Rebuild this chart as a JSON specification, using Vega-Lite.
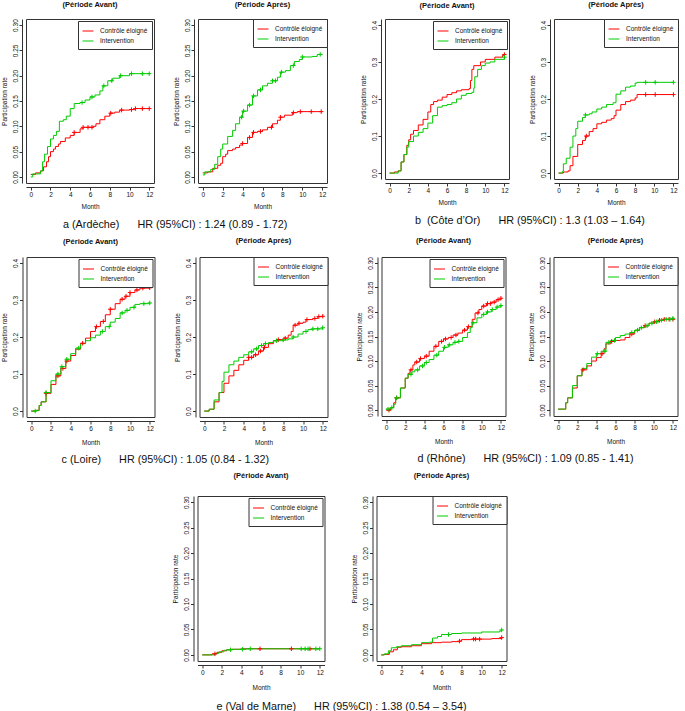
{
"$schema": "https://vega.github.io/schema/vega-lite/v6.json",
"background": "white",
"padding": {"left": 0, "top": 0, "right": 0, "bottom": 0},
"config": {
  "font": "Liberation Sans",
  "view": {"stroke": "#333", "strokeWidth": 1},
  "axis": {"grid": false, "domainColor": "#333", "tickColor": "#333", "labelColor": "#111", "titleColor": "#111", "labelFont": "Liberation Sans", "titleFont": "Liberation Sans", "labelFontSize": 6.5, "titleFontSize": 6.5, "titleFontWeight": "normal", "tickSize": 3, "offset": 4, "labelPadding": 1, "titlePadding": 7, "labelFlush": false, "labelOverlap": false, "domainWidth": 1, "tickWidth": 1},
  "axisY": {"labelAngle": 270, "titlePadding": 5},
  "legend": {"orient": "top-right", "offset": 2, "padding": 4, "strokeColor": "#333", "fillColor": "white", "labelFont": "Liberation Sans", "labelFontSize": 6.5, "labelColor": "#111", "symbolType": "stroke", "symbolSize": 120, "symbolStrokeWidth": 1, "rowPadding": -2, "labelOffset": 6},
  "title": {"font": "Liberation Sans", "fontSize": 7.5, "fontWeight": "bold", "color": "#111", "offset": 10, "anchor": "middle", "frame": "group"},
  "line": {"strokeWidth": 1}
},
"datasets": {
"km": [
{"p":"a1","g":"C","t":0,"y":0.005},{"p":"a1","g":"C","t":0.5,"y":0.008},{"p":"a1","g":"C","t":1,"y":0.012},{"p":"a1","g":"C","t":1.3,"y":0.02},{"p":"a1","g":"C","t":1.6,"y":0.03},{"p":"a1","g":"C","t":1.8,"y":0.04},{"p":"a1","g":"C","t":2,"y":0.05},{"p":"a1","g":"C","t":2.3,"y":0.055},{"p":"a1","g":"C","t":2.5,"y":0.06},{"p":"a1","g":"C","t":2.8,"y":0.065},{"p":"a1","g":"C","t":3,"y":0.07},{"p":"a1","g":"C","t":3.5,"y":0.077},{"p":"a1","g":"C","t":4,"y":0.082},{"p":"a1","g":"C","t":4.4,"y":0.088},{"p":"a1","g":"C","t":5,"y":0.095},{"p":"a1","g":"C","t":5.3,"y":0.098},{"p":"a1","g":"C","t":6.3,"y":0.1},{"p":"a1","g":"C","t":6.6,"y":0.105},{"p":"a1","g":"C","t":7,"y":0.113},{"p":"a1","g":"C","t":7.5,"y":0.12},{"p":"a1","g":"C","t":8,"y":0.126},{"p":"a1","g":"C","t":8.5,"y":0.128},{"p":"a1","g":"C","t":9,"y":0.132},{"p":"a1","g":"C","t":10,"y":0.133},{"p":"a1","g":"C","t":10.5,"y":0.135},{"p":"a1","g":"C","t":12,"y":0.135},
{"p":"a1","g":"I","t":0,"y":0},{"p":"a1","g":"I","t":0.2,"y":0.006},{"p":"a1","g":"I","t":1,"y":0.012},{"p":"a1","g":"I","t":1.2,"y":0.03},{"p":"a1","g":"I","t":1.4,"y":0.045},{"p":"a1","g":"I","t":1.7,"y":0.06},{"p":"a1","g":"I","t":2,"y":0.075},{"p":"a1","g":"I","t":2.3,"y":0.082},{"p":"a1","g":"I","t":2.6,"y":0.09},{"p":"a1","g":"I","t":2.9,"y":0.11},{"p":"a1","g":"I","t":3.3,"y":0.113},{"p":"a1","g":"I","t":3.6,"y":0.12},{"p":"a1","g":"I","t":4,"y":0.135},{"p":"a1","g":"I","t":4.4,"y":0.145},{"p":"a1","g":"I","t":5,"y":0.147},{"p":"a1","g":"I","t":5.5,"y":0.152},{"p":"a1","g":"I","t":6,"y":0.158},{"p":"a1","g":"I","t":6.5,"y":0.162},{"p":"a1","g":"I","t":7,"y":0.17},{"p":"a1","g":"I","t":7.3,"y":0.18},{"p":"a1","g":"I","t":7.8,"y":0.19},{"p":"a1","g":"I","t":8.3,"y":0.195},{"p":"a1","g":"I","t":9,"y":0.2},{"p":"a1","g":"I","t":10,"y":0.204},{"p":"a1","g":"I","t":12,"y":0.204},
{"p":"a2","g":"C","t":0,"y":0.008},{"p":"a2","g":"C","t":0.5,"y":0.01},{"p":"a2","g":"C","t":1,"y":0.017},{"p":"a2","g":"C","t":1.5,"y":0.023},{"p":"a2","g":"C","t":1.8,"y":0.027},{"p":"a2","g":"C","t":2,"y":0.04},{"p":"a2","g":"C","t":2.3,"y":0.045},{"p":"a2","g":"C","t":2.5,"y":0.052},{"p":"a2","g":"C","t":3,"y":0.055},{"p":"a2","g":"C","t":3.3,"y":0.058},{"p":"a2","g":"C","t":3.7,"y":0.063},{"p":"a2","g":"C","t":4,"y":0.066},{"p":"a2","g":"C","t":4.5,"y":0.078},{"p":"a2","g":"C","t":5,"y":0.088},{"p":"a2","g":"C","t":5.5,"y":0.09},{"p":"a2","g":"C","t":6,"y":0.093},{"p":"a2","g":"C","t":6.5,"y":0.098},{"p":"a2","g":"C","t":7,"y":0.105},{"p":"a2","g":"C","t":7.5,"y":0.112},{"p":"a2","g":"C","t":7.8,"y":0.118},{"p":"a2","g":"C","t":8.2,"y":0.122},{"p":"a2","g":"C","t":9,"y":0.127},{"p":"a2","g":"C","t":9.5,"y":0.129},{"p":"a2","g":"C","t":12,"y":0.129},
{"p":"a2","g":"I","t":0,"y":0.004},{"p":"a2","g":"I","t":0.2,"y":0.01},{"p":"a2","g":"I","t":0.8,"y":0.015},{"p":"a2","g":"I","t":1.2,"y":0.025},{"p":"a2","g":"I","t":1.5,"y":0.04},{"p":"a2","g":"I","t":1.8,"y":0.055},{"p":"a2","g":"I","t":2,"y":0.065},{"p":"a2","g":"I","t":2.5,"y":0.08},{"p":"a2","g":"I","t":3,"y":0.092},{"p":"a2","g":"I","t":3.3,"y":0.105},{"p":"a2","g":"I","t":3.7,"y":0.118},{"p":"a2","g":"I","t":4,"y":0.13},{"p":"a2","g":"I","t":4.5,"y":0.142},{"p":"a2","g":"I","t":5,"y":0.16},{"p":"a2","g":"I","t":5.5,"y":0.172},{"p":"a2","g":"I","t":6,"y":0.18},{"p":"a2","g":"I","t":6.5,"y":0.185},{"p":"a2","g":"I","t":7,"y":0.19},{"p":"a2","g":"I","t":7.5,"y":0.197},{"p":"a2","g":"I","t":7.8,"y":0.207},{"p":"a2","g":"I","t":8.3,"y":0.21},{"p":"a2","g":"I","t":8.8,"y":0.22},{"p":"a2","g":"I","t":9.2,"y":0.228},{"p":"a2","g":"I","t":9.7,"y":0.232},{"p":"a2","g":"I","t":10,"y":0.237},{"p":"a2","g":"I","t":11,"y":0.238},{"p":"a2","g":"I","t":11.5,"y":0.242},{"p":"a2","g":"I","t":12,"y":0.242},
{"p":"b1","g":"C","t":0,"y":0},{"p":"b1","g":"C","t":0.5,"y":0.003},{"p":"b1","g":"C","t":0.9,"y":0.006},{"p":"b1","g":"C","t":1.2,"y":0.03},{"p":"b1","g":"C","t":1.5,"y":0.05},{"p":"b1","g":"C","t":1.8,"y":0.075},{"p":"b1","g":"C","t":2,"y":0.09},{"p":"b1","g":"C","t":2.2,"y":0.105},{"p":"b1","g":"C","t":2.5,"y":0.115},{"p":"b1","g":"C","t":3,"y":0.13},{"p":"b1","g":"C","t":3.5,"y":0.145},{"p":"b1","g":"C","t":4,"y":0.165},{"p":"b1","g":"C","t":4.3,"y":0.185},{"p":"b1","g":"C","t":4.6,"y":0.193},{"p":"b1","g":"C","t":5,"y":0.197},{"p":"b1","g":"C","t":5.5,"y":0.205},{"p":"b1","g":"C","t":6,"y":0.212},{"p":"b1","g":"C","t":6.5,"y":0.217},{"p":"b1","g":"C","t":7,"y":0.222},{"p":"b1","g":"C","t":7.5,"y":0.225},{"p":"b1","g":"C","t":8.3,"y":0.228},{"p":"b1","g":"C","t":8.45,"y":0.25},{"p":"b1","g":"C","t":8.6,"y":0.28},{"p":"b1","g":"C","t":8.8,"y":0.29},{"p":"b1","g":"C","t":9.5,"y":0.3},{"p":"b1","g":"C","t":10,"y":0.307},{"p":"b1","g":"C","t":11,"y":0.313},{"p":"b1","g":"C","t":11.8,"y":0.318},{"p":"b1","g":"C","t":12,"y":0.32},
{"p":"b1","g":"I","t":0,"y":0},{"p":"b1","g":"I","t":0.9,"y":0.006},{"p":"b1","g":"I","t":1.2,"y":0.03},{"p":"b1","g":"I","t":1.5,"y":0.05},{"p":"b1","g":"I","t":1.8,"y":0.07},{"p":"b1","g":"I","t":2,"y":0.085},{"p":"b1","g":"I","t":2.5,"y":0.1},{"p":"b1","g":"I","t":3,"y":0.11},{"p":"b1","g":"I","t":3.5,"y":0.12},{"p":"b1","g":"I","t":4,"y":0.135},{"p":"b1","g":"I","t":4.5,"y":0.155},{"p":"b1","g":"I","t":5,"y":0.178},{"p":"b1","g":"I","t":5.5,"y":0.182},{"p":"b1","g":"I","t":6,"y":0.185},{"p":"b1","g":"I","t":6.5,"y":0.19},{"p":"b1","g":"I","t":7,"y":0.2},{"p":"b1","g":"I","t":7.5,"y":0.21},{"p":"b1","g":"I","t":8,"y":0.215},{"p":"b1","g":"I","t":8.6,"y":0.218},{"p":"b1","g":"I","t":8.8,"y":0.23},{"p":"b1","g":"I","t":8.9,"y":0.26},{"p":"b1","g":"I","t":9.2,"y":0.28},{"p":"b1","g":"I","t":9.6,"y":0.29},{"p":"b1","g":"I","t":10,"y":0.297},{"p":"b1","g":"I","t":10.5,"y":0.3},{"p":"b1","g":"I","t":11,"y":0.307},{"p":"b1","g":"I","t":12,"y":0.313},
{"p":"b2","g":"C","t":0,"y":0},{"p":"b2","g":"C","t":0.5,"y":0.003},{"p":"b2","g":"C","t":1,"y":0.006},{"p":"b2","g":"C","t":1.2,"y":0.02},{"p":"b2","g":"C","t":1.5,"y":0.045},{"p":"b2","g":"C","t":2,"y":0.077},{"p":"b2","g":"C","t":2.5,"y":0.088},{"p":"b2","g":"C","t":2.8,"y":0.1},{"p":"b2","g":"C","t":3.2,"y":0.112},{"p":"b2","g":"C","t":3.6,"y":0.12},{"p":"b2","g":"C","t":4,"y":0.133},{"p":"b2","g":"C","t":4.5,"y":0.137},{"p":"b2","g":"C","t":5,"y":0.143},{"p":"b2","g":"C","t":5.5,"y":0.147},{"p":"b2","g":"C","t":5.8,"y":0.155},{"p":"b2","g":"C","t":6,"y":0.17},{"p":"b2","g":"C","t":6.5,"y":0.185},{"p":"b2","g":"C","t":7,"y":0.193},{"p":"b2","g":"C","t":7.5,"y":0.197},{"p":"b2","g":"C","t":8,"y":0.203},{"p":"b2","g":"C","t":8.2,"y":0.212},{"p":"b2","g":"C","t":12,"y":0.212},
{"p":"b2","g":"I","t":0,"y":0},{"p":"b2","g":"I","t":0.4,"y":0.005},{"p":"b2","g":"I","t":0.5,"y":0.025},{"p":"b2","g":"I","t":0.8,"y":0.04},{"p":"b2","g":"I","t":1.2,"y":0.07},{"p":"b2","g":"I","t":1.5,"y":0.1},{"p":"b2","g":"I","t":1.8,"y":0.12},{"p":"b2","g":"I","t":2,"y":0.14},{"p":"b2","g":"I","t":2.5,"y":0.15},{"p":"b2","g":"I","t":2.8,"y":0.157},{"p":"b2","g":"I","t":3.2,"y":0.16},{"p":"b2","g":"I","t":3.5,"y":0.165},{"p":"b2","g":"I","t":4,"y":0.173},{"p":"b2","g":"I","t":4.5,"y":0.178},{"p":"b2","g":"I","t":5,"y":0.185},{"p":"b2","g":"I","t":5.7,"y":0.19},{"p":"b2","g":"I","t":6,"y":0.213},{"p":"b2","g":"I","t":6.5,"y":0.222},{"p":"b2","g":"I","t":7,"y":0.232},{"p":"b2","g":"I","t":7.5,"y":0.235},{"p":"b2","g":"I","t":8,"y":0.243},{"p":"b2","g":"I","t":8.2,"y":0.245},{"p":"b2","g":"I","t":12,"y":0.245},
{"p":"c1","g":"C","t":0,"y":0},{"p":"c1","g":"C","t":0.5,"y":0.002},{"p":"c1","g":"C","t":0.8,"y":0.015},{"p":"c1","g":"C","t":1,"y":0.025},{"p":"c1","g":"C","t":1.5,"y":0.048},{"p":"c1","g":"C","t":2,"y":0.072},{"p":"c1","g":"C","t":2.5,"y":0.095},{"p":"c1","g":"C","t":3,"y":0.115},{"p":"c1","g":"C","t":3.5,"y":0.135},{"p":"c1","g":"C","t":4,"y":0.15},{"p":"c1","g":"C","t":4.5,"y":0.167},{"p":"c1","g":"C","t":5,"y":0.183},{"p":"c1","g":"C","t":5.5,"y":0.197},{"p":"c1","g":"C","t":6,"y":0.215},{"p":"c1","g":"C","t":6.5,"y":0.228},{"p":"c1","g":"C","t":7,"y":0.242},{"p":"c1","g":"C","t":7.5,"y":0.26},{"p":"c1","g":"C","t":8,"y":0.275},{"p":"c1","g":"C","t":8.5,"y":0.29},{"p":"c1","g":"C","t":9,"y":0.302},{"p":"c1","g":"C","t":9.5,"y":0.31},{"p":"c1","g":"C","t":10,"y":0.32},{"p":"c1","g":"C","t":10.5,"y":0.327},{"p":"c1","g":"C","t":11,"y":0.332},{"p":"c1","g":"C","t":12,"y":0.333},
{"p":"c1","g":"I","t":0,"y":0},{"p":"c1","g":"I","t":0.5,"y":0.002},{"p":"c1","g":"I","t":0.8,"y":0.015},{"p":"c1","g":"I","t":1,"y":0.025},{"p":"c1","g":"I","t":1.5,"y":0.05},{"p":"c1","g":"I","t":2,"y":0.082},{"p":"c1","g":"I","t":2.5,"y":0.1},{"p":"c1","g":"I","t":3,"y":0.12},{"p":"c1","g":"I","t":3.5,"y":0.14},{"p":"c1","g":"I","t":4,"y":0.155},{"p":"c1","g":"I","t":4.5,"y":0.17},{"p":"c1","g":"I","t":5,"y":0.182},{"p":"c1","g":"I","t":5.5,"y":0.19},{"p":"c1","g":"I","t":6,"y":0.198},{"p":"c1","g":"I","t":6.5,"y":0.205},{"p":"c1","g":"I","t":7,"y":0.215},{"p":"c1","g":"I","t":7.5,"y":0.228},{"p":"c1","g":"I","t":8,"y":0.24},{"p":"c1","g":"I","t":8.5,"y":0.25},{"p":"c1","g":"I","t":9,"y":0.265},{"p":"c1","g":"I","t":9.5,"y":0.272},{"p":"c1","g":"I","t":10,"y":0.28},{"p":"c1","g":"I","t":10.5,"y":0.288},{"p":"c1","g":"I","t":11,"y":0.29},{"p":"c1","g":"I","t":12,"y":0.292},
{"p":"c2","g":"C","t":0,"y":0},{"p":"c2","g":"C","t":0.5,"y":0.005},{"p":"c2","g":"C","t":1,"y":0.025},{"p":"c2","g":"C","t":1.5,"y":0.05},{"p":"c2","g":"C","t":2,"y":0.075},{"p":"c2","g":"C","t":2.5,"y":0.095},{"p":"c2","g":"C","t":3,"y":0.11},{"p":"c2","g":"C","t":3.5,"y":0.125},{"p":"c2","g":"C","t":4,"y":0.137},{"p":"c2","g":"C","t":4.5,"y":0.145},{"p":"c2","g":"C","t":5,"y":0.152},{"p":"c2","g":"C","t":5.5,"y":0.162},{"p":"c2","g":"C","t":6,"y":0.172},{"p":"c2","g":"C","t":6.5,"y":0.182},{"p":"c2","g":"C","t":7,"y":0.19},{"p":"c2","g":"C","t":7.5,"y":0.193},{"p":"c2","g":"C","t":8,"y":0.197},{"p":"c2","g":"C","t":8.5,"y":0.205},{"p":"c2","g":"C","t":8.8,"y":0.215},{"p":"c2","g":"C","t":9,"y":0.232},{"p":"c2","g":"C","t":9.5,"y":0.237},{"p":"c2","g":"C","t":10,"y":0.24},{"p":"c2","g":"C","t":10.3,"y":0.247},{"p":"c2","g":"C","t":11,"y":0.25},{"p":"c2","g":"C","t":11.5,"y":0.255},{"p":"c2","g":"C","t":12,"y":0.256},
{"p":"c2","g":"I","t":0,"y":0},{"p":"c2","g":"I","t":0.5,"y":0.005},{"p":"c2","g":"I","t":1,"y":0.03},{"p":"c2","g":"I","t":1.5,"y":0.05},{"p":"c2","g":"I","t":1.8,"y":0.08},{"p":"c2","g":"I","t":2,"y":0.105},{"p":"c2","g":"I","t":2.5,"y":0.125},{"p":"c2","g":"I","t":3,"y":0.135},{"p":"c2","g":"I","t":3.5,"y":0.145},{"p":"c2","g":"I","t":4,"y":0.152},{"p":"c2","g":"I","t":4.5,"y":0.16},{"p":"c2","g":"I","t":5,"y":0.168},{"p":"c2","g":"I","t":5.5,"y":0.177},{"p":"c2","g":"I","t":6,"y":0.182},{"p":"c2","g":"I","t":6.5,"y":0.185},{"p":"c2","g":"I","t":7,"y":0.19},{"p":"c2","g":"I","t":8,"y":0.192},{"p":"c2","g":"I","t":8.5,"y":0.195},{"p":"c2","g":"I","t":9,"y":0.2},{"p":"c2","g":"I","t":9.5,"y":0.208},{"p":"c2","g":"I","t":10,"y":0.215},{"p":"c2","g":"I","t":10.5,"y":0.22},{"p":"c2","g":"I","t":11,"y":0.222},{"p":"c2","g":"I","t":12,"y":0.225},
{"p":"d1","g":"C","t":0,"y":0},{"p":"d1","g":"C","t":0.3,"y":0},{"p":"d1","g":"C","t":0.5,"y":0.005},{"p":"d1","g":"C","t":0.8,"y":0.015},{"p":"d1","g":"C","t":1,"y":0.025},{"p":"d1","g":"C","t":1.5,"y":0.045},{"p":"d1","g":"C","t":2,"y":0.065},{"p":"d1","g":"C","t":2.3,"y":0.075},{"p":"d1","g":"C","t":2.5,"y":0.082},{"p":"d1","g":"C","t":2.8,"y":0.092},{"p":"d1","g":"C","t":3,"y":0.098},{"p":"d1","g":"C","t":3.5,"y":0.105},{"p":"d1","g":"C","t":4,"y":0.11},{"p":"d1","g":"C","t":4.5,"y":0.12},{"p":"d1","g":"C","t":5,"y":0.13},{"p":"d1","g":"C","t":5.5,"y":0.14},{"p":"d1","g":"C","t":6,"y":0.145},{"p":"d1","g":"C","t":6.5,"y":0.148},{"p":"d1","g":"C","t":7,"y":0.153},{"p":"d1","g":"C","t":7.5,"y":0.157},{"p":"d1","g":"C","t":8,"y":0.163},{"p":"d1","g":"C","t":8.5,"y":0.17},{"p":"d1","g":"C","t":9,"y":0.185},{"p":"d1","g":"C","t":9.3,"y":0.198},{"p":"d1","g":"C","t":9.7,"y":0.205},{"p":"d1","g":"C","t":10,"y":0.212},{"p":"d1","g":"C","t":10.5,"y":0.217},{"p":"d1","g":"C","t":11,"y":0.22},{"p":"d1","g":"C","t":11.5,"y":0.225},{"p":"d1","g":"C","t":12,"y":0.228},
{"p":"d1","g":"I","t":0,"y":0.002},{"p":"d1","g":"I","t":0.5,"y":0.005},{"p":"d1","g":"I","t":0.8,"y":0.012},{"p":"d1","g":"I","t":1,"y":0.025},{"p":"d1","g":"I","t":1.5,"y":0.045},{"p":"d1","g":"I","t":2,"y":0.065},{"p":"d1","g":"I","t":2.3,"y":0.073},{"p":"d1","g":"I","t":2.7,"y":0.078},{"p":"d1","g":"I","t":3,"y":0.082},{"p":"d1","g":"I","t":3.5,"y":0.09},{"p":"d1","g":"I","t":4,"y":0.097},{"p":"d1","g":"I","t":4.5,"y":0.103},{"p":"d1","g":"I","t":5,"y":0.112},{"p":"d1","g":"I","t":5.5,"y":0.12},{"p":"d1","g":"I","t":6,"y":0.128},{"p":"d1","g":"I","t":6.5,"y":0.133},{"p":"d1","g":"I","t":7,"y":0.138},{"p":"d1","g":"I","t":7.5,"y":0.14},{"p":"d1","g":"I","t":8,"y":0.148},{"p":"d1","g":"I","t":8.5,"y":0.158},{"p":"d1","g":"I","t":8.8,"y":0.168},{"p":"d1","g":"I","t":9,"y":0.178},{"p":"d1","g":"I","t":9.5,"y":0.188},{"p":"d1","g":"I","t":10,"y":0.195},{"p":"d1","g":"I","t":10.5,"y":0.2},{"p":"d1","g":"I","t":11,"y":0.205},{"p":"d1","g":"I","t":11.5,"y":0.21},{"p":"d1","g":"I","t":12,"y":0.213},
{"p":"d2","g":"C","t":0,"y":0.002},{"p":"d2","g":"C","t":0.6,"y":0.002},{"p":"d2","g":"C","t":0.8,"y":0.015},{"p":"d2","g":"C","t":1,"y":0.025},{"p":"d2","g":"C","t":1.5,"y":0.045},{"p":"d2","g":"C","t":2,"y":0.07},{"p":"d2","g":"C","t":2.5,"y":0.082},{"p":"d2","g":"C","t":3,"y":0.09},{"p":"d2","g":"C","t":3.5,"y":0.1},{"p":"d2","g":"C","t":4,"y":0.107},{"p":"d2","g":"C","t":4.5,"y":0.115},{"p":"d2","g":"C","t":4.8,"y":0.125},{"p":"d2","g":"C","t":5,"y":0.135},{"p":"d2","g":"C","t":5.5,"y":0.14},{"p":"d2","g":"C","t":6,"y":0.142},{"p":"d2","g":"C","t":6.5,"y":0.143},{"p":"d2","g":"C","t":7,"y":0.148},{"p":"d2","g":"C","t":7.5,"y":0.155},{"p":"d2","g":"C","t":8,"y":0.162},{"p":"d2","g":"C","t":8.5,"y":0.168},{"p":"d2","g":"C","t":9,"y":0.172},{"p":"d2","g":"C","t":9.5,"y":0.177},{"p":"d2","g":"C","t":10,"y":0.18},{"p":"d2","g":"C","t":10.5,"y":0.183},{"p":"d2","g":"C","t":11,"y":0.185},{"p":"d2","g":"C","t":12,"y":0.185},
{"p":"d2","g":"I","t":0,"y":0.002},{"p":"d2","g":"I","t":0.3,"y":0.002},{"p":"d2","g":"I","t":0.8,"y":0.015},{"p":"d2","g":"I","t":1,"y":0.025},{"p":"d2","g":"I","t":1.5,"y":0.05},{"p":"d2","g":"I","t":2,"y":0.07},{"p":"d2","g":"I","t":2.5,"y":0.085},{"p":"d2","g":"I","t":3,"y":0.095},{"p":"d2","g":"I","t":3.5,"y":0.108},{"p":"d2","g":"I","t":4,"y":0.115},{"p":"d2","g":"I","t":4.5,"y":0.12},{"p":"d2","g":"I","t":5,"y":0.138},{"p":"d2","g":"I","t":5.5,"y":0.142},{"p":"d2","g":"I","t":6,"y":0.148},{"p":"d2","g":"I","t":6.5,"y":0.152},{"p":"d2","g":"I","t":7,"y":0.155},{"p":"d2","g":"I","t":7.5,"y":0.158},{"p":"d2","g":"I","t":8,"y":0.163},{"p":"d2","g":"I","t":8.5,"y":0.168},{"p":"d2","g":"I","t":9,"y":0.172},{"p":"d2","g":"I","t":9.5,"y":0.177},{"p":"d2","g":"I","t":10,"y":0.18},{"p":"d2","g":"I","t":10.5,"y":0.183},{"p":"d2","g":"I","t":11,"y":0.185},{"p":"d2","g":"I","t":12,"y":0.187},
{"p":"e1","g":"C","t":0,"y":0},{"p":"e1","g":"C","t":0.8,"y":0},{"p":"e1","g":"C","t":1,"y":0.002},{"p":"e1","g":"C","t":1.5,"y":0.005},{"p":"e1","g":"C","t":2,"y":0.008},{"p":"e1","g":"C","t":2.5,"y":0.01},{"p":"e1","g":"C","t":3,"y":0.011},{"p":"e1","g":"C","t":4,"y":0.012},{"p":"e1","g":"C","t":12,"y":0.012},
{"p":"e1","g":"I","t":0,"y":0},{"p":"e1","g":"I","t":1,"y":0},{"p":"e1","g":"I","t":1.3,"y":0.003},{"p":"e1","g":"I","t":1.7,"y":0.006},{"p":"e1","g":"I","t":2.2,"y":0.009},{"p":"e1","g":"I","t":2.5,"y":0.01},{"p":"e1","g":"I","t":3,"y":0.011},{"p":"e1","g":"I","t":4.5,"y":0.012},{"p":"e1","g":"I","t":12,"y":0.012},
{"p":"e2","g":"C","t":0,"y":0},{"p":"e2","g":"C","t":0.3,"y":0.001},{"p":"e2","g":"C","t":0.8,"y":0.006},{"p":"e2","g":"C","t":1.2,"y":0.01},{"p":"e2","g":"C","t":1.6,"y":0.015},{"p":"e2","g":"C","t":2,"y":0.016},{"p":"e2","g":"C","t":3,"y":0.018},{"p":"e2","g":"C","t":4,"y":0.022},{"p":"e2","g":"C","t":5,"y":0.024},{"p":"e2","g":"C","t":6,"y":0.025},{"p":"e2","g":"C","t":7,"y":0.026},{"p":"e2","g":"C","t":7.8,"y":0.027},{"p":"e2","g":"C","t":8,"y":0.03},{"p":"e2","g":"C","t":9,"y":0.031},{"p":"e2","g":"C","t":11,"y":0.032},{"p":"e2","g":"C","t":12,"y":0.034},
{"p":"e2","g":"I","t":0,"y":0},{"p":"e2","g":"I","t":0.3,"y":0.002},{"p":"e2","g":"I","t":0.7,"y":0.008},{"p":"e2","g":"I","t":1,"y":0.014},{"p":"e2","g":"I","t":1.5,"y":0.016},{"p":"e2","g":"I","t":2,"y":0.018},{"p":"e2","g":"I","t":3,"y":0.02},{"p":"e2","g":"I","t":4,"y":0.024},{"p":"e2","g":"I","t":4.8,"y":0.025},{"p":"e2","g":"I","t":5.1,"y":0.033},{"p":"e2","g":"I","t":5.6,"y":0.036},{"p":"e2","g":"I","t":6,"y":0.04},{"p":"e2","g":"I","t":7,"y":0.042},{"p":"e2","g":"I","t":8,"y":0.043},{"p":"e2","g":"I","t":10,"y":0.045},{"p":"e2","g":"I","t":11.8,"y":0.047},{"p":"e2","g":"I","t":12,"y":0.049}
],
"cens": [
{"p":"a1","g":"C","t":4.4,"y":0.088},{"p":"a1","g":"C","t":5.3,"y":0.098},{"p":"a1","g":"C","t":5.8,"y":0.098},{"p":"a1","g":"C","t":6.2,"y":0.098},{"p":"a1","g":"C","t":8.1,"y":0.126},{"p":"a1","g":"C","t":9.2,"y":0.132},{"p":"a1","g":"C","t":10.2,"y":0.133},{"p":"a1","g":"C","t":10.6,"y":0.135},{"p":"a1","g":"C","t":11.3,"y":0.135},{"p":"a1","g":"C","t":12,"y":0.135},
{"p":"a1","g":"I","t":5.2,"y":0.147},{"p":"a1","g":"I","t":6.2,"y":0.158},{"p":"a1","g":"I","t":7.4,"y":0.18},{"p":"a1","g":"I","t":8.2,"y":0.19},{"p":"a1","g":"I","t":9.1,"y":0.2},{"p":"a1","g":"I","t":10.2,"y":0.204},{"p":"a1","g":"I","t":11.3,"y":0.204},{"p":"a1","g":"I","t":12,"y":0.204},
{"p":"a2","g":"C","t":4,"y":0.066},{"p":"a2","g":"C","t":4.7,"y":0.078},{"p":"a2","g":"C","t":5.1,"y":0.088},{"p":"a2","g":"C","t":5.8,"y":0.09},{"p":"a2","g":"C","t":6.9,"y":0.098},{"p":"a2","g":"C","t":7.8,"y":0.118},{"p":"a2","g":"C","t":9.1,"y":0.127},{"p":"a2","g":"C","t":9.8,"y":0.129},{"p":"a2","g":"C","t":10.9,"y":0.129},{"p":"a2","g":"C","t":11.9,"y":0.129},
{"p":"a2","g":"I","t":3.9,"y":0.118},{"p":"a2","g":"I","t":4.1,"y":0.13},{"p":"a2","g":"I","t":4.7,"y":0.142},{"p":"a2","g":"I","t":5.1,"y":0.16},{"p":"a2","g":"I","t":5.8,"y":0.172},{"p":"a2","g":"I","t":7,"y":0.19},{"p":"a2","g":"I","t":7.3,"y":0.19},{"p":"a2","g":"I","t":7.9,"y":0.207},{"p":"a2","g":"I","t":9.1,"y":0.22},{"p":"a2","g":"I","t":10,"y":0.237},{"p":"a2","g":"I","t":11.8,"y":0.242},
{"p":"b1","g":"C","t":12,"y":0.32},{"p":"b1","g":"I","t":12,"y":0.313},
{"p":"b2","g":"C","t":2.9,"y":0.1},{"p":"b2","g":"C","t":9.1,"y":0.212},{"p":"b2","g":"C","t":10.1,"y":0.212},{"p":"b2","g":"C","t":12,"y":0.212},
{"p":"b2","g":"I","t":2.8,"y":0.157},{"p":"b2","g":"I","t":9.1,"y":0.245},{"p":"b2","g":"I","t":10.1,"y":0.245},{"p":"b2","g":"I","t":12,"y":0.245},
{"p":"c1","g":"C","t":1.5,"y":0.048},{"p":"c1","g":"C","t":2.7,"y":0.095},{"p":"c1","g":"C","t":3.2,"y":0.115},{"p":"c1","g":"C","t":3.6,"y":0.135},{"p":"c1","g":"C","t":5.2,"y":0.183},{"p":"c1","g":"C","t":6.6,"y":0.228},{"p":"c1","g":"C","t":7.3,"y":0.242},{"p":"c1","g":"C","t":8,"y":0.275},{"p":"c1","g":"C","t":9.2,"y":0.302},{"p":"c1","g":"C","t":9.6,"y":0.31},{"p":"c1","g":"C","t":10,"y":0.32},{"p":"c1","g":"C","t":10.7,"y":0.327},{"p":"c1","g":"C","t":11.3,"y":0.332},{"p":"c1","g":"C","t":12,"y":0.333},
{"p":"c1","g":"I","t":0.4,"y":0},{"p":"c1","g":"I","t":1.5,"y":0.05},{"p":"c1","g":"I","t":2.7,"y":0.1},{"p":"c1","g":"I","t":3.1,"y":0.12},{"p":"c1","g":"I","t":3.6,"y":0.14},{"p":"c1","g":"I","t":4.8,"y":0.17},{"p":"c1","g":"I","t":7.2,"y":0.215},{"p":"c1","g":"I","t":7.9,"y":0.228},{"p":"c1","g":"I","t":9.2,"y":0.265},{"p":"c1","g":"I","t":9.7,"y":0.272},{"p":"c1","g":"I","t":10.4,"y":0.28},{"p":"c1","g":"I","t":11.4,"y":0.29},{"p":"c1","g":"I","t":12,"y":0.292},
{"p":"c2","g":"C","t":4.5,"y":0.145},{"p":"c2","g":"C","t":4.8,"y":0.145},{"p":"c2","g":"C","t":5.2,"y":0.152},{"p":"c2","g":"C","t":5.7,"y":0.162},{"p":"c2","g":"C","t":6.1,"y":0.172},{"p":"c2","g":"C","t":7.5,"y":0.193},{"p":"c2","g":"C","t":8.2,"y":0.197},{"p":"c2","g":"C","t":9.2,"y":0.232},{"p":"c2","g":"C","t":9.6,"y":0.237},{"p":"c2","g":"C","t":10.4,"y":0.247},{"p":"c2","g":"C","t":11.2,"y":0.25},{"p":"c2","g":"C","t":11.6,"y":0.255},{"p":"c2","g":"C","t":12,"y":0.256},
{"p":"c2","g":"I","t":4.8,"y":0.16},{"p":"c2","g":"I","t":5.3,"y":0.168},{"p":"c2","g":"I","t":5.8,"y":0.177},{"p":"c2","g":"I","t":6.2,"y":0.182},{"p":"c2","g":"I","t":7.3,"y":0.19},{"p":"c2","g":"I","t":8,"y":0.192},{"p":"c2","g":"I","t":9,"y":0.2},{"p":"c2","g":"I","t":10.3,"y":0.215},{"p":"c2","g":"I","t":11,"y":0.222},{"p":"c2","g":"I","t":11.5,"y":0.222},{"p":"c2","g":"I","t":12,"y":0.225},
{"p":"d1","g":"C","t":0.3,"y":0},{"p":"d1","g":"C","t":1.1,"y":0.025},{"p":"d1","g":"C","t":2.6,"y":0.082},{"p":"d1","g":"C","t":3.2,"y":0.098},{"p":"d1","g":"C","t":3.6,"y":0.105},{"p":"d1","g":"C","t":4.2,"y":0.11},{"p":"d1","g":"C","t":5.2,"y":0.13},{"p":"d1","g":"C","t":5.8,"y":0.14},{"p":"d1","g":"C","t":6.2,"y":0.145},{"p":"d1","g":"C","t":6.8,"y":0.148},{"p":"d1","g":"C","t":7.3,"y":0.153},{"p":"d1","g":"C","t":8.2,"y":0.163},{"p":"d1","g":"C","t":8.6,"y":0.17},{"p":"d1","g":"C","t":9.6,"y":0.198},{"p":"d1","g":"C","t":10.2,"y":0.212},{"p":"d1","g":"C","t":10.6,"y":0.217},{"p":"d1","g":"C","t":10.9,"y":0.217},{"p":"d1","g":"C","t":11.3,"y":0.22},{"p":"d1","g":"C","t":11.7,"y":0.225},{"p":"d1","g":"C","t":12,"y":0.228},
{"p":"d1","g":"I","t":0.2,"y":0.002},{"p":"d1","g":"I","t":0.6,"y":0.005},{"p":"d1","g":"I","t":1.1,"y":0.025},{"p":"d1","g":"I","t":2.6,"y":0.073},{"p":"d1","g":"I","t":3.3,"y":0.082},{"p":"d1","g":"I","t":3.8,"y":0.09},{"p":"d1","g":"I","t":4.2,"y":0.097},{"p":"d1","g":"I","t":5.3,"y":0.112},{"p":"d1","g":"I","t":6.1,"y":0.128},{"p":"d1","g":"I","t":6.6,"y":0.133},{"p":"d1","g":"I","t":7.2,"y":0.138},{"p":"d1","g":"I","t":7.6,"y":0.14},{"p":"d1","g":"I","t":9.1,"y":0.178},{"p":"d1","g":"I","t":10.2,"y":0.195},{"p":"d1","g":"I","t":10.6,"y":0.2},{"p":"d1","g":"I","t":11.1,"y":0.205},{"p":"d1","g":"I","t":11.6,"y":0.21},{"p":"d1","g":"I","t":12,"y":0.213},
{"p":"d2","g":"C","t":2.6,"y":0.082},{"p":"d2","g":"C","t":4.6,"y":0.115},{"p":"d2","g":"C","t":5.6,"y":0.14},{"p":"d2","g":"C","t":7.7,"y":0.155},{"p":"d2","g":"C","t":9.1,"y":0.172},{"p":"d2","g":"C","t":10.1,"y":0.18},{"p":"d2","g":"C","t":10.6,"y":0.183},{"p":"d2","g":"C","t":11.1,"y":0.185},{"p":"d2","g":"C","t":11.6,"y":0.185},{"p":"d2","g":"C","t":12,"y":0.185},
{"p":"d2","g":"I","t":4.1,"y":0.115},{"p":"d2","g":"I","t":4.9,"y":0.12},{"p":"d2","g":"I","t":5.3,"y":0.138},{"p":"d2","g":"I","t":5.9,"y":0.142},{"p":"d2","g":"I","t":7.7,"y":0.158},{"p":"d2","g":"I","t":8.3,"y":0.163},{"p":"d2","g":"I","t":8.7,"y":0.168},{"p":"d2","g":"I","t":9.3,"y":0.172},{"p":"d2","g":"I","t":9.8,"y":0.177},{"p":"d2","g":"I","t":10.3,"y":0.18},{"p":"d2","g":"I","t":10.8,"y":0.183},{"p":"d2","g":"I","t":11.3,"y":0.185},{"p":"d2","g":"I","t":11.7,"y":0.185},{"p":"d2","g":"I","t":12,"y":0.187},
{"p":"e1","g":"C","t":1.3,"y":0.002},{"p":"e1","g":"C","t":5.9,"y":0.012},{"p":"e1","g":"C","t":9.1,"y":0.012},{"p":"e1","g":"C","t":11,"y":0.012},
{"p":"e1","g":"I","t":2.9,"y":0.01},{"p":"e1","g":"I","t":4.1,"y":0.011},{"p":"e1","g":"I","t":4.9,"y":0.012},{"p":"e1","g":"I","t":10.1,"y":0.012},{"p":"e1","g":"I","t":10.5,"y":0.012},{"p":"e1","g":"I","t":10.8,"y":0.012},{"p":"e1","g":"I","t":11.6,"y":0.012},{"p":"e1","g":"I","t":12,"y":0.012},
{"p":"e2","g":"C","t":7.8,"y":0.027},{"p":"e2","g":"C","t":9.2,"y":0.031},{"p":"e2","g":"C","t":9.4,"y":0.031},{"p":"e2","g":"C","t":9.8,"y":0.031},{"p":"e2","g":"C","t":12,"y":0.034},
{"p":"e2","g":"I","t":6.7,"y":0.04},{"p":"e2","g":"I","t":12,"y":0.049}
]
},
"vconcat": [
 {"hconcat": [
  {"hconcat": [
   {"width": 128, "height": 164, "title": {"text": "(Période Avant)", "offset": 10},
    "encoding": {"x": {"field": "t", "type": "quantitative", "scale": {"domain": [-0.48, 12.48], "nice": false, "zero": false}, "axis": {"values": [0,2,4,6,8,10,12], "format": "d", "title": "Month", "titlePadding": 6}},
                 "y": {"field": "y", "type": "quantitative", "scale": {"domain": [-0.012, 0.312], "nice": false, "zero": false}, "axis": {"values": [0,0.05,0.1,0.15,0.2,0.25,0.3], "format": ".2f", "title": "Participation rate"}}},
    "layer": [
     {"data": {"name": "km"}, "transform": [{"filter": "datum.p=='a1'"}], "mark": {"type": "line", "interpolate": "step-after", "strokeWidth": 1},
      "encoding": {"color": {"field": "g", "type": "nominal", "scale": {"domain": ["C","I"], "range": ["#ff0000","#00cc00"]}, "legend": {"title": null, "symbolType": "stroke", "labelExpr": "datum.label=='C'?'Contrôle éloigné':'Intervention'"}}}},
     {"data": {"name": "cens"}, "transform": [{"filter": "datum.p=='a1'"}], "mark": {"type": "point", "shape": "M-1,0H1M0,-1V1", "filled": false, "size": 20, "strokeWidth": 1, "opacity": 1},
      "encoding": {"color": {"field": "g", "type": "nominal", "scale": {"domain": ["C","I"], "range": ["#ff0000","#00cc00"]}, "legend": null}}}
    ]},
   {"width": 129, "height": 164, "title": {"text": "(Période Après)", "offset": 10},
    "encoding": {"x": {"field": "t", "type": "quantitative", "scale": {"domain": [-0.48, 12.48], "nice": false, "zero": false}, "axis": {"values": [0,2,4,6,8,10,12], "format": "d", "title": "Month", "titlePadding": 6}},
                 "y": {"field": "y", "type": "quantitative", "scale": {"domain": [-0.012, 0.312], "nice": false, "zero": false}, "axis": {"values": [0,0.05,0.1,0.15,0.2,0.25,0.3], "format": ".2f", "title": "Participation rate"}}},
    "layer": [
     {"data": {"name": "km"}, "transform": [{"filter": "datum.p=='a2'"}], "mark": {"type": "line", "interpolate": "step-after", "strokeWidth": 1},
      "encoding": {"color": {"field": "g", "type": "nominal", "scale": {"domain": ["C","I"], "range": ["#ff0000","#00cc00"]}, "legend": {"title": null, "symbolType": "stroke", "offset": 0, "labelExpr": "datum.label=='C'?'Contrôle éloigné':'Intervention'"}}}},
     {"data": {"name": "cens"}, "transform": [{"filter": "datum.p=='a2'"}], "mark": {"type": "point", "shape": "M-1,0H1M0,-1V1", "filled": false, "size": 20, "strokeWidth": 1, "opacity": 1},
      "encoding": {"color": {"field": "g", "type": "nominal", "scale": {"domain": ["C","I"], "range": ["#ff0000","#00cc00"]}, "legend": null}}}
    ]}
  ], "spacing": 17,
  "title": {"text": "a (Ardèche)\u00a0\u00a0\u00a0\u00a0\u00a0\u00a0HR (95%CI) : 1.24 (0.89 - 1.72)", "orient": "bottom", "anchor": "start", "fontSize": 10.8, "fontWeight": "normal", "offset": 8, "dx": 37, "frame": "group"},
  "resolve": {"scale": {"color": "independent"}, "legend": {"color": "independent"}}},
  {"hconcat": [
   {"width": 124, "height": 160, "title": {"text": "(Période Avant)", "offset": 10},
    "encoding": {"x": {"field": "t", "type": "quantitative", "scale": {"domain": [-0.48, 12.48], "nice": false, "zero": false}, "axis": {"values": [0,2,4,6,8,10,12], "format": "d", "title": "Month", "titlePadding": 6}},
                 "y": {"field": "y", "type": "quantitative", "scale": {"domain": [-0.016, 0.416], "nice": false, "zero": false}, "axis": {"values": [0,0.1,0.2,0.3,0.4], "format": ".1f", "title": "Participation rate"}}},
    "layer": [
     {"data": {"name": "km"}, "transform": [{"filter": "datum.p=='b1'"}], "mark": {"type": "line", "interpolate": "step-after", "strokeWidth": 1},
      "encoding": {"color": {"field": "g", "type": "nominal", "scale": {"domain": ["C","I"], "range": ["#ff0000","#00cc00"]}, "legend": {"title": null, "symbolType": "stroke", "labelExpr": "datum.label=='C'?'Contrôle éloigné':'Intervention'"}}}},
     {"data": {"name": "cens"}, "transform": [{"filter": "datum.p=='b1'"}], "mark": {"type": "point", "shape": "M-1,0H1M0,-1V1", "filled": false, "size": 20, "strokeWidth": 1, "opacity": 1},
      "encoding": {"color": {"field": "g", "type": "nominal", "scale": {"domain": ["C","I"], "range": ["#ff0000","#00cc00"]}, "legend": null}}}
    ]},
   {"width": 124, "height": 160, "title": {"text": "(Période Après)", "offset": 10},
    "encoding": {"x": {"field": "t", "type": "quantitative", "scale": {"domain": [-0.48, 12.48], "nice": false, "zero": false}, "axis": {"values": [0,2,4,6,8,10,12], "format": "d", "title": "Month", "titlePadding": 6}},
                 "y": {"field": "y", "type": "quantitative", "scale": {"domain": [-0.016, 0.416], "nice": false, "zero": false}, "axis": {"values": [0,0.1,0.2,0.3,0.4], "format": ".1f", "title": "Participation rate"}}},
    "layer": [
     {"data": {"name": "km"}, "transform": [{"filter": "datum.p=='b2'"}], "mark": {"type": "line", "interpolate": "step-after", "strokeWidth": 1},
      "encoding": {"color": {"field": "g", "type": "nominal", "scale": {"domain": ["C","I"], "range": ["#ff0000","#00cc00"]}, "legend": {"title": null, "symbolType": "stroke", "offset": 0, "labelExpr": "datum.label=='C'?'Contrôle éloigné':'Intervention'"}}}},
     {"data": {"name": "cens"}, "transform": [{"filter": "datum.p=='b2'"}], "mark": {"type": "point", "shape": "M-1,0H1M0,-1V1", "filled": false, "size": 20, "strokeWidth": 1, "opacity": 1},
      "encoding": {"color": {"field": "g", "type": "nominal", "scale": {"domain": ["C","I"], "range": ["#ff0000","#00cc00"]}, "legend": null}}}
    ]}
  ], "spacing": 18,
  "title": {"text": "b\u00a0\u00a0(Côte d’Or)\u00a0\u00a0\u00a0\u00a0\u00a0\u00a0HR (95%CI) : 1.3 (1.03 – 1.64)", "orient": "bottom", "anchor": "start", "fontSize": 10.8, "fontWeight": "normal", "offset": 8, "dx": 30, "frame": "group"},
  "resolve": {"scale": {"color": "independent"}, "legend": {"color": "independent"}}}
 ], "spacing": 31, "resolve": {"scale": {"color": "independent"}, "legend": {"color": "independent"}}},
 {"hconcat": [
  {"hconcat": [
   {"width": 128, "height": 160, "title": {"text": "(Période Avant)", "offset": 12},
    "encoding": {"x": {"field": "t", "type": "quantitative", "scale": {"domain": [-0.48, 12.48], "nice": false, "zero": false}, "axis": {"values": [0,2,4,6,8,10,12], "format": "d", "title": "Month", "titlePadding": 8}},
                 "y": {"field": "y", "type": "quantitative", "scale": {"domain": [-0.016, 0.416], "nice": false, "zero": false}, "axis": {"values": [0,0.1,0.2,0.3,0.4], "format": ".1f", "title": "Participation rate"}}},
    "layer": [
     {"data": {"name": "km"}, "transform": [{"filter": "datum.p=='c1'"}], "mark": {"type": "line", "interpolate": "step-after", "strokeWidth": 1},
      "encoding": {"color": {"field": "g", "type": "nominal", "scale": {"domain": ["C","I"], "range": ["#ff0000","#00cc00"]}, "legend": {"title": null, "symbolType": "stroke", "labelExpr": "datum.label=='C'?'Contrôle éloigné':'Intervention'"}}}},
     {"data": {"name": "cens"}, "transform": [{"filter": "datum.p=='c1'"}], "mark": {"type": "point", "shape": "M-1,0H1M0,-1V1", "filled": false, "size": 20, "strokeWidth": 1, "opacity": 1},
      "encoding": {"color": {"field": "g", "type": "nominal", "scale": {"domain": ["C","I"], "range": ["#ff0000","#00cc00"]}, "legend": null}}}
    ]},
   {"width": 128, "height": 160, "title": {"text": "(Période Après)", "offset": 12},
    "encoding": {"x": {"field": "t", "type": "quantitative", "scale": {"domain": [-0.48, 12.48], "nice": false, "zero": false}, "axis": {"values": [0,2,4,6,8,10,12], "format": "d", "title": "Month", "titlePadding": 8}},
                 "y": {"field": "y", "type": "quantitative", "scale": {"domain": [-0.016, 0.416], "nice": false, "zero": false}, "axis": {"values": [0,0.1,0.2,0.3,0.4], "format": ".1f", "title": "Participation rate"}}},
    "layer": [
     {"data": {"name": "km"}, "transform": [{"filter": "datum.p=='c2'"}], "mark": {"type": "line", "interpolate": "step-after", "strokeWidth": 1},
      "encoding": {"color": {"field": "g", "type": "nominal", "scale": {"domain": ["C","I"], "range": ["#ff0000","#00cc00"]}, "legend": {"title": null, "symbolType": "stroke", "offset": 0, "labelExpr": "datum.label=='C'?'Contrôle éloigné':'Intervention'"}}}},
     {"data": {"name": "cens"}, "transform": [{"filter": "datum.p=='c2'"}], "mark": {"type": "point", "shape": "M-1,0H1M0,-1V1", "filled": false, "size": 20, "strokeWidth": 1, "opacity": 1},
      "encoding": {"color": {"field": "g", "type": "nominal", "scale": {"domain": ["C","I"], "range": ["#ff0000","#00cc00"]}, "legend": null}}}
    ]}
  ], "spacing": 18,
  "title": {"text": "c (Loire)\u00a0\u00a0\u00a0\u00a0\u00a0\u00a0HR (95%CI) : 1.05 (0.84 - 1.32)", "orient": "bottom", "anchor": "start", "fontSize": 10.8, "fontWeight": "normal", "offset": 7, "dx": 35, "frame": "group"},
  "resolve": {"scale": {"color": "independent"}, "legend": {"color": "independent"}}},
  {"hconcat": [
   {"width": 124, "height": 159, "title": {"text": "(Période Avant)", "offset": 12},
    "encoding": {"x": {"field": "t", "type": "quantitative", "scale": {"domain": [-0.48, 12.48], "nice": false, "zero": false}, "axis": {"values": [0,2,4,6,8,10,12], "format": "d", "title": "Month", "titlePadding": 8}},
                 "y": {"field": "y", "type": "quantitative", "scale": {"domain": [-0.012, 0.312], "nice": false, "zero": false}, "axis": {"values": [0,0.05,0.1,0.15,0.2,0.25,0.3], "format": ".2f", "title": "Participation rate"}}},
    "layer": [
     {"data": {"name": "km"}, "transform": [{"filter": "datum.p=='d1'"}], "mark": {"type": "line", "interpolate": "step-after", "strokeWidth": 1},
      "encoding": {"color": {"field": "g", "type": "nominal", "scale": {"domain": ["C","I"], "range": ["#ff0000","#00cc00"]}, "legend": {"title": null, "symbolType": "stroke", "labelExpr": "datum.label=='C'?'Contrôle éloigné':'Intervention'"}}}},
     {"data": {"name": "cens"}, "transform": [{"filter": "datum.p=='d1'"}], "mark": {"type": "point", "shape": "M-1,0H1M0,-1V1", "filled": false, "size": 20, "strokeWidth": 1, "opacity": 1},
      "encoding": {"color": {"field": "g", "type": "nominal", "scale": {"domain": ["C","I"], "range": ["#ff0000","#00cc00"]}, "legend": null}}}
    ]},
   {"width": 124, "height": 159, "title": {"text": "(Période Après)", "offset": 12},
    "encoding": {"x": {"field": "t", "type": "quantitative", "scale": {"domain": [-0.48, 12.48], "nice": false, "zero": false}, "axis": {"values": [0,2,4,6,8,10,12], "format": "d", "title": "Month", "titlePadding": 8}},
                 "y": {"field": "y", "type": "quantitative", "scale": {"domain": [-0.012, 0.312], "nice": false, "zero": false}, "axis": {"values": [0,0.05,0.1,0.15,0.2,0.25,0.3], "format": ".2f", "title": "Participation rate"}}},
    "layer": [
     {"data": {"name": "km"}, "transform": [{"filter": "datum.p=='d2'"}], "mark": {"type": "line", "interpolate": "step-after", "strokeWidth": 1},
      "encoding": {"color": {"field": "g", "type": "nominal", "scale": {"domain": ["C","I"], "range": ["#ff0000","#00cc00"]}, "legend": {"title": null, "symbolType": "stroke", "offset": 0, "labelExpr": "datum.label=='C'?'Contrôle éloigné':'Intervention'"}}}},
     {"data": {"name": "cens"}, "transform": [{"filter": "datum.p=='d2'"}], "mark": {"type": "point", "shape": "M-1,0H1M0,-1V1", "filled": false, "size": 20, "strokeWidth": 1, "opacity": 1},
      "encoding": {"color": {"field": "g", "type": "nominal", "scale": {"domain": ["C","I"], "range": ["#ff0000","#00cc00"]}, "legend": null}}}
    ]}
  ], "spacing": 21,
  "title": {"text": "d (Rhône)\u00a0\u00a0\u00a0\u00a0\u00a0\u00a0HR (95%CI) : 1.09 (0.85 - 1.41)", "orient": "bottom", "anchor": "start", "fontSize": 10.8, "fontWeight": "normal", "offset": 7, "dx": 36, "frame": "group"},
  "resolve": {"scale": {"color": "independent"}, "legend": {"color": "independent"}}}
 ], "spacing": 27, "resolve": {"scale": {"color": "independent"}, "legend": {"color": "independent"}}},
 {"hconcat": [
   {"width": 127, "height": 165, "title": {"text": "(Période Avant)", "offset": 16},
    "encoding": {"x": {"field": "t", "type": "quantitative", "scale": {"domain": [-0.48, 12.48], "nice": false, "zero": false}, "axis": {"values": [0,2,4,6,8,10,12], "format": "d", "title": "Month", "titlePadding": 9}},
                 "y": {"field": "y", "type": "quantitative", "scale": {"domain": [-0.012, 0.312], "nice": false, "zero": false}, "axis": {"values": [0,0.05,0.1,0.15,0.2,0.25,0.3], "format": ".2f", "title": "Participation rate"}}},
    "layer": [
     {"data": {"name": "km"}, "transform": [{"filter": "datum.p=='e1'"}], "mark": {"type": "line", "interpolate": "step-after", "strokeWidth": 1},
      "encoding": {"color": {"field": "g", "type": "nominal", "scale": {"domain": ["C","I"], "range": ["#ff0000","#00cc00"]}, "legend": {"title": null, "symbolType": "stroke", "labelExpr": "datum.label=='C'?'Contrôle éloigné':'Intervention'"}}}},
     {"data": {"name": "cens"}, "transform": [{"filter": "datum.p=='e1'"}], "mark": {"type": "point", "shape": "M-1,0H1M0,-1V1", "filled": false, "size": 20, "strokeWidth": 1, "opacity": 1},
      "encoding": {"color": {"field": "g", "type": "nominal", "scale": {"domain": ["C","I"], "range": ["#ff0000","#00cc00"]}, "legend": null}}}
    ]},
   {"width": 130, "height": 165, "title": {"text": "(Période Après)", "offset": 16},
    "encoding": {"x": {"field": "t", "type": "quantitative", "scale": {"domain": [-0.48, 12.48], "nice": false, "zero": false}, "axis": {"values": [0,2,4,6,8,10,12], "format": "d", "title": "Month", "titlePadding": 9}},
                 "y": {"field": "y", "type": "quantitative", "scale": {"domain": [-0.012, 0.312], "nice": false, "zero": false}, "axis": {"values": [0,0.05,0.1,0.15,0.2,0.25,0.3], "format": ".2f", "title": "Participation rate"}}},
    "layer": [
     {"data": {"name": "km"}, "transform": [{"filter": "datum.p=='e2'"}], "mark": {"type": "line", "interpolate": "step-after", "strokeWidth": 1},
      "encoding": {"color": {"field": "g", "type": "nominal", "scale": {"domain": ["C","I"], "range": ["#ff0000","#00cc00"]}, "legend": {"title": null, "symbolType": "stroke", "offset": 0, "labelExpr": "datum.label=='C'?'Contrôle éloigné':'Intervention'"}}}},
     {"data": {"name": "cens"}, "transform": [{"filter": "datum.p=='e2'"}], "mark": {"type": "point", "shape": "M-1,0H1M0,-1V1", "filled": false, "size": 20, "strokeWidth": 1, "opacity": 1},
      "encoding": {"color": {"field": "g", "type": "nominal", "scale": {"domain": ["C","I"], "range": ["#ff0000","#00cc00"]}, "legend": null}}}
    ]}
  ], "spacing": 25,
  "title": {"text": "e (Val de Marne)\u00a0\u00a0\u00a0\u00a0\u00a0\u00a0HR (95%CI) : 1.38 (0.54 – 3.54)", "orient": "bottom", "anchor": "start", "fontSize": 10.8, "fontWeight": "normal", "offset": 9, "dx": 19, "frame": "group"},
  "resolve": {"scale": {"color": "independent"}, "legend": {"color": "independent"}}}
],
"spacing": 6,
"center": true,
"resolve": {"scale": {"color": "independent"}, "legend": {"color": "independent"}}
}
